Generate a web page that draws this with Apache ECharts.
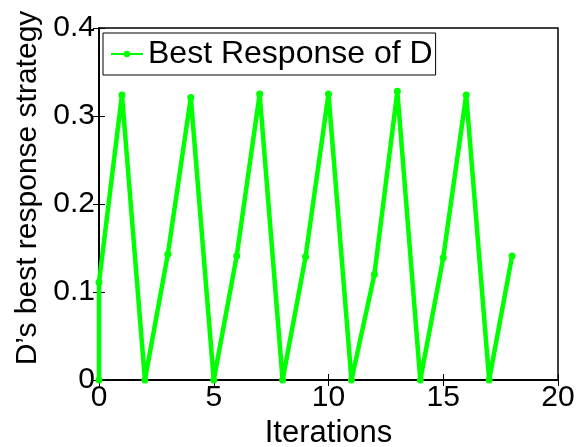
<!DOCTYPE html>
<html><head><meta charset="utf-8">
<script src="https://cdn.jsdelivr.net/npm/echarts@6/dist/echarts.min.js"></script>
<style>html,body{margin:0;padding:0;background:#fff}#c{width:577px;height:447px}</style>
</head><body><div id="c"></div>
<script>
var iterations = [0, 0, 1, 2, 3, 4, 5, 6, 7, 8, 9, 10, 11, 12, 13, 14, 15, 16, 17, 18];
var bestResponseD = [0, 0.111, 0.324, 0, 0.143, 0.321, 0, 0.141, 0.325, 0, 0.140, 0.325, 0, 0.120, 0.328, 0, 0.139, 0.324, 0, 0.141];
var xTicks = [0, 5, 10, 15, 20];
var yTicks = [0, 0.1, 0.2, 0.3, 0.4];
var seriesName = 'Best Response of D';

var data = iterations.map(function (x, i) { return [x, bestResponseD[i]]; });
var font = 'Liberation Sans, Arial, sans-serif';
var chart = echarts.init(document.getElementById('c'));
var tickLen = 6;
chart.setOption({
  animation: false,
  grid: { left: 99, right: 19, top: 28, bottom: 67, containLabel: false, outerBoundsMode: 'none',
    show: true, borderColor: '#000', borderWidth: 1.5, backgroundColor: '#fff' },
  legend: {
    left: 103, top: 33, padding: [5, 3, 5, 7], itemGap: 0,
    borderColor: '#000', borderWidth: 1, backgroundColor: '#fff',
    itemWidth: 32, itemHeight: 8,
    textStyle: { fontFamily: font, fontSize: 32, color: '#000', padding: [0, 0, 0, 0] },
    data: [seriesName]
  },
  xAxis: [{
    type: 'value', min: 0, max: 20, interval: 5, position: 'bottom',
    name: 'Iterations', nameLocation: 'middle', nameGap: 34,
    nameTextStyle: { fontFamily: font, fontSize: 31, color: '#000' },
    axisLine: { lineStyle: { color: '#000', width: 1.5 } },
    axisTick: { inside: true, length: tickLen, lineStyle: { color: '#000' } },
    axisLabel: { fontFamily: font, fontSize: 30, color: '#000', margin: 3, customValues: xTicks },
    splitLine: { show: false }
  }, {
    type: 'value', min: 0, max: 20, interval: 5, position: 'top',
    axisLine: { show: true, lineStyle: { color: '#000', width: 1.5 } },
    axisTick: { inside: true, length: tickLen, lineStyle: { color: '#000' } },
    axisLabel: { show: false }, splitLine: { show: false }
  }],
  yAxis: [{
    type: 'value', min: 0, max: 0.4, interval: 0.1, position: 'left',
    name: 'D\u2019s best response strategy', nameLocation: 'middle', nameGap: 52,
    nameTextStyle: { fontFamily: font, fontSize: 30, color: '#000', padding: [0, 0, 0, 32] },
    axisLine: { show: true, lineStyle: { color: '#000', width: 1.5 } },
    axisTick: { inside: true, length: tickLen, lineStyle: { color: '#000' } },
    axisLabel: { fontFamily: font, fontSize: 30, color: '#000', margin: 4,
      customValues: yTicks,
      formatter: function (v) { return v === 0 ? '0' : v.toFixed(1); } },
    splitLine: { show: false }
  }, {
    type: 'value', min: 0, max: 0.4, interval: 0.1, position: 'right',
    axisLine: { show: true, lineStyle: { color: '#000', width: 1.5 } },
    axisTick: { inside: true, length: tickLen, lineStyle: { color: '#000' } },
    axisLabel: { show: false }, splitLine: { show: false }
  }],
  series: [{
    name: seriesName, type: 'line', data: data,
    xAxisIndex: 0, yAxisIndex: 0,
    symbol: 'circle', symbolSize: 7, showSymbol: true,
    lineStyle: { color: '#00ff00', width: 4.5 },
    itemStyle: { color: '#00ff00' },
    clip: false
  }]
});
</script></body></html>
